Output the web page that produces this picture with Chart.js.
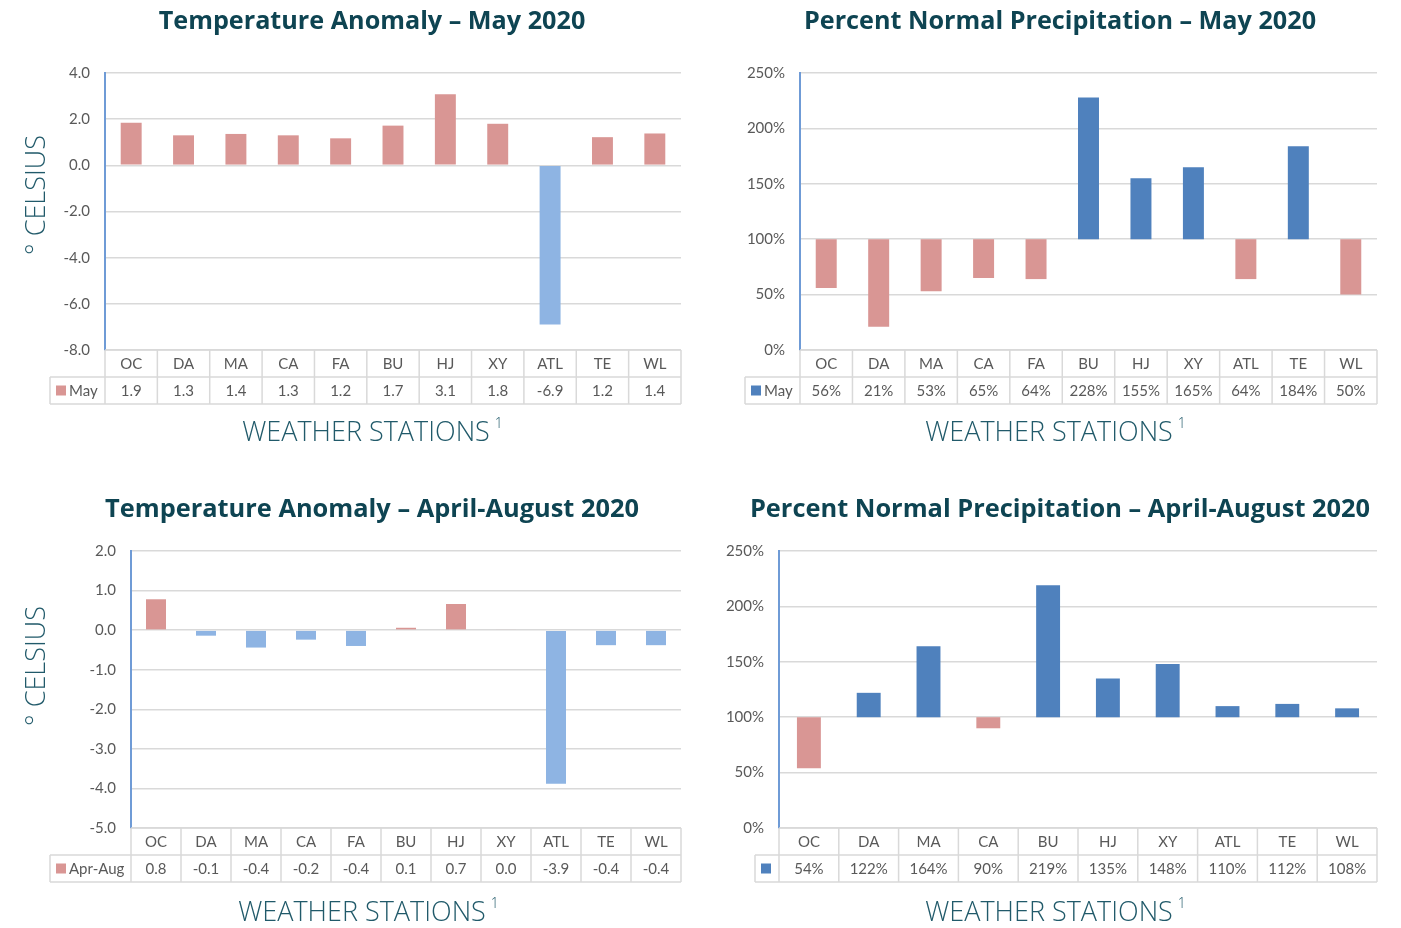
<!DOCTYPE html>
<html>
<head>
<meta charset="utf-8">
<script src="https://cdn.jsdelivr.net/npm/chart.js@4.4.1/dist/chart.umd.min.js"></script>
<style>
  body { margin: 0; background: #fff; }
  #wrap { position: relative; width: 1401px; height: 928px; }
  canvas { position: absolute; }
</style>
</head>
<body>
<div id="wrap">
  <canvas id="c1" width="700" height="464" style="left:0;top:0"></canvas>
  <canvas id="c2" width="701" height="464" style="left:700px;top:0"></canvas>
  <canvas id="c3" width="700" height="464" style="left:0;top:464px"></canvas>
  <canvas id="c4" width="701" height="464" style="left:700px;top:464px"></canvas>
</div>
<script>
// weather stations (the Apr-Aug precipitation chart has no FA)
const stations = ["OC", "DA", "MA", "CA", "FA", "BU", "HJ", "XY", "ATL", "TE", "WL"];
const precipStations = ["OC", "DA", "MA", "CA", "BU", "HJ", "XY", "ATL", "TE", "WL"];

// temperature anomaly (deg C)
const tempMay = [1.85, 1.3, 1.36, 1.3, 1.17, 1.72, 3.08, 1.8, -6.9, 1.22, 1.38];
const tempAprAug = [0.78, -0.14, -0.44, -0.24, -0.4, 0.06, 0.66, 0.02, -3.88, -0.38, -0.38];

// percent of normal precipitation
const precipMay = [56, 21, 53, 65, 64, 228, 155, 165, 64, 184, 50];
const precipAprAug = [54, 122, 164, 90, 219, 135, 148, 110, 112, 108];

// y axis ranges
const tempMayAxis = { min: -8, max: 4, step: 2 };
const tempAprAugAxis = { min: -5, max: 2, step: 1 };
const precipAxis = { min: 0, max: 250, step: 50 };

const WARM = "#D99694";
const COOL = "#8EB4E3";
const WET = "#4F81BD";
const GRID = "#D9D9D9";
const TEXT = "#595959";
const TEAL = "#0E4452";
const TEAL_LIGHT = "#215A6A";

// table + titles drawn around the plot, Excel style
const extras = {
    id: "extras",
    afterDraw(chart, args, o) {
        const ctx = chart.ctx;
        const x = chart.scales.x;
        const area = chart.chartArea;
        const labels = chart.data.labels;
        const half = (x.getPixelForValue(1) - x.getPixelForValue(0)) / 2;
        const rowH = 27;
        const b = area.bottom;

        ctx.save();
        ctx.strokeStyle = GRID;
        ctx.lineWidth = 1.5;
        ctx.beginPath();
        // horizontal lines
        ctx.moveTo(area.left, b); ctx.lineTo(area.right, b);
        ctx.moveTo(o.legendLeft, b + rowH); ctx.lineTo(area.right, b + rowH);
        ctx.moveTo(o.legendLeft, b + rowH * 2); ctx.lineTo(area.right, b + rowH * 2);
        // verticals
        ctx.moveTo(o.legendLeft, b + rowH); ctx.lineTo(o.legendLeft, b + rowH * 2);
        for (let i = 0; i <= labels.length; i++) {
            const px = x.getPixelForValue(0) - half + i * half * 2;
            ctx.moveTo(px, b); ctx.lineTo(px, b + rowH * 2);
        }
        ctx.stroke();

        ctx.fillStyle = TEXT;
        ctx.font = "15px Lato";
        ctx.textAlign = "center";
        ctx.textBaseline = "middle";
        labels.forEach((lab, i) => {
            const cx = x.getPixelForValue(i);
            ctx.fillText(lab, cx, b + rowH / 2 + 1);
            ctx.fillText(o.format(o.values[i]), cx, b + rowH * 1.5 + 1);
        });

        // legend key
        ctx.fillStyle = o.legendColor;
        ctx.fillRect(o.legendLeft + 6, b + rowH * 1.5 - 5, 10, 10);
        ctx.fillStyle = TEXT;
        ctx.textAlign = "left";
        ctx.fillText(o.legendLabel, o.legendLeft + 19, b + rowH * 1.5 + 1);

        // chart title
        ctx.fillStyle = TEAL;
        ctx.font = "bold " + o.titleSize + "px 'Open Sans'";
        ctx.textAlign = "center";
        ctx.fillText(o.title, o.titleX, o.titleY);

        // x axis title
        ctx.fillStyle = TEAL_LIGHT;
        ctx.font = "300 27px 'Open Sans'";
        const xt = "WEATHER STATIONS";
        const w = ctx.measureText(xt).width;
        ctx.textAlign = "left";
        ctx.fillText(xt, o.xTitleX - w / 2, o.xTitleY);
        ctx.font = "300 14px 'Open Sans'";
        ctx.fillText("1", o.xTitleX + w / 2 + 5, o.xTitleY - 9);

        // y axis title
        if (o.yTitle) {
            ctx.translate(37, o.yTitleY);
            ctx.rotate(-Math.PI / 2);
            ctx.font = "300 27px 'Open Sans'";
            ctx.textAlign = "center";
            ctx.fillText(o.yTitle, 0, 0);
        }
        ctx.restore();
    }
};

function makeChart(id, cfg) {
    const isPrecip = cfg.kind === "precip";
    const colorFor = (v) => isPrecip ? (v >= 100 ? WET : WARM) : (v >= 0 ? WARM : COOL);
    const data = isPrecip ? cfg.values.map(v => [100, v]) : cfg.values;

    return new Chart(document.getElementById(id), {
        type: "bar",
        data: {
            labels: cfg.labels,
            datasets: [{
                label: cfg.legendLabel,
                data: data,
                backgroundColor: cfg.values.map(colorFor),
                borderWidth: 0,
                barPercentage: 1,
                categoryPercentage: 0.4,
            }],
        },
        options: {
            responsive: false,
            animation: false,
            layout: { padding: cfg.padding },
            plugins: {
                legend: { display: false },
                tooltip: { enabled: false },
                extras: {
                    values: cfg.values,
                    format: isPrecip ? (v) => v + "%" : (v) => v.toFixed(1),
                    legendLabel: cfg.legendLabel,
                    legendColor: isPrecip ? WET : WARM,
                    legendLeft: cfg.legendLeft,
                    title: cfg.title,
                    titleSize: cfg.titleSize,
                    titleX: cfg.titleX,
                    titleY: 22 + (cfg.titleShift || 0),
                    xTitleX: cfg.xTitleX,
                    xTitleY: cfg.xTitleY,
                    yTitle: cfg.yTitle,
                    yTitleY: cfg.yTitleY,
                },
            },
            scales: {
                x: { display: false },
                y: {
                    min: cfg.axis.min,
                    max: cfg.axis.max,
                    afterFit: (s) => { s.width = cfg.axisWidth; },
                    ticks: {
                        stepSize: cfg.axis.step,
                        padding: 15,
                        color: TEXT,
                        font: { family: "Lato", size: 15 },
                        callback: isPrecip ? (v) => v + "%" : (v) => v.toFixed(1),
                    },
                    grid: { color: GRID, lineWidth: 1.5, drawTicks: false },
                    border: { color: "#6F9BD6", width: 2 },
                },
            },
        },
        plugins: [extras],
    });
}

makeChart("c1", {
    kind: "temp", labels: stations, values: tempMay, axis: tempMayAxis, legendLabel: "May",
    title: "Temperature Anomaly – May 2020", titleX: 372, titleSize: 25.2,
    padding: { top: 73, right: 19, bottom: 114, left: 0 }, axisWidth: 105,
    legendLeft: 50, xTitleX: 366, xTitleY: 433, yTitle: "° CELSIUS", yTitleY: 195,
});
makeChart("c2", {
    kind: "precip", labels: stations, values: precipMay, axis: precipAxis, legendLabel: "May",
    title: "Percent Normal Precipitation – May 2020", titleX: 360, titleSize: 25.2,
    padding: { top: 73, right: 24, bottom: 114, left: 0 }, axisWidth: 100,
    legendLeft: 45, xTitleX: 349, xTitleY: 433,
});
makeChart("c3", {
    kind: "temp", labels: stations, values: tempAprAug, axis: tempAprAugAxis, legendLabel: "Apr-Aug",
    title: "Temperature Anomaly – April-August 2020", titleX: 372, titleShift: 24, titleSize: 25.4,
    padding: { top: 87, right: 19, bottom: 100, left: 0 }, axisWidth: 131,
    legendLeft: 50, xTitleX: 362, xTitleY: 449, yTitle: "° CELSIUS", yTitleY: 202,
});
makeChart("c4", {
    kind: "precip", labels: precipStations, values: precipAprAug, axis: precipAxis, legendLabel: "",
    title: "Percent Normal Precipitation – April-August 2020", titleX: 360, titleShift: 24, titleSize: 25.4,
    padding: { top: 87, right: 24, bottom: 100, left: 0 }, axisWidth: 79,
    legendLeft: 55, xTitleX: 349, xTitleY: 449,
});
</script>
</body>
</html>
